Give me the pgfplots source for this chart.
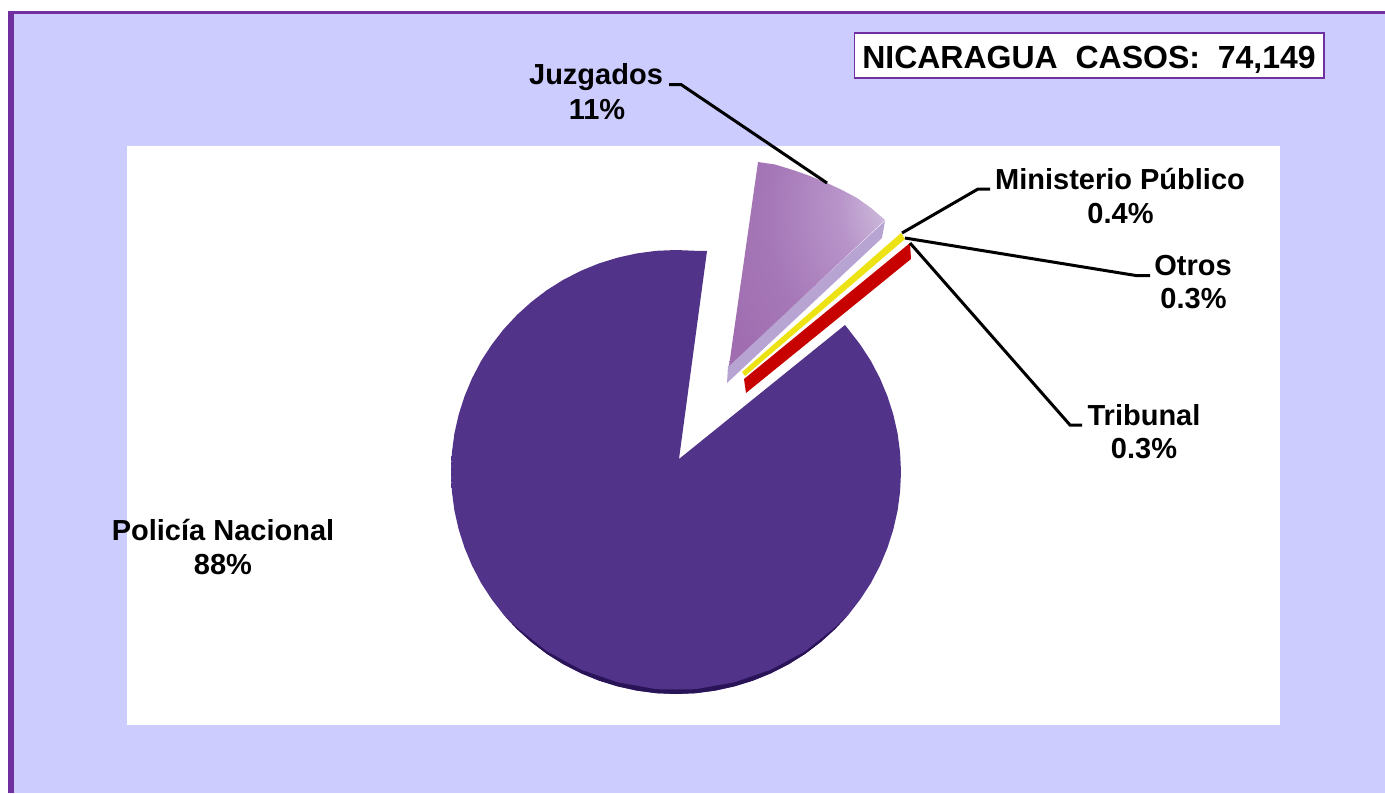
\documentclass[border=0pt]{standalone}
\usepackage{pgfplots}
\pgfplotsset{compat=1.18}
\usepackage{fontspec}
\setmainfont{Liberation Sans}
\definecolor{bgc}{HTML}{CCCCFF}
\definecolor{frm}{HTML}{7030A0}
\definecolor{prim}{HTML}{2A1458}
\definecolor{jside}{HTML}{B8A4D2}
\pgfdeclareradialshading{jglow}{\pgfpoint{38bp}{19bp}}{
  rgb(0bp)=(0.90,0.88,0.93);
  rgb(8bp)=(0.82,0.76,0.87);
  rgb(20bp)=(0.72,0.58,0.79);
  rgb(36bp)=(0.65,0.47,0.72);
  rgb(50bp)=(0.627,0.43,0.69);
  rgb(100bp)=(0.627,0.43,0.69)}
\pgfdeclareverticalshading{mainv}{100bp}{
  rgb(0bp)=(0.32,0.20,0.54);
  rgb(84bp)=(0.32,0.20,0.54);
  rgb(92bp)=(0.36,0.23,0.57);
  rgb(100bp)=(0.45,0.30,0.63)}
\tikzset{lab/.style={anchor=base,font=\fontsize{29}{33}\selectfont\bfseries}}
\begin{document}
\begin{tikzpicture}
\begin{axis}[
  scale only axis, width=1385pt, height=793pt,
  xmin=0, xmax=1385, ymin=0, ymax=793, y dir=reverse,
  hide axis, clip=true]
% page, frame, background, plot area
\addplot[fill=white,draw=none] coordinates {(0,0)(1385,0)(1385,793)(0,793)} -- cycle;
\addplot[fill=frm,draw=none] coordinates {(8,11)(1385,11)(1385,793)(8,793)} -- cycle;
\addplot[fill=bgc,draw=none] coordinates {(14,14)(1385,14)(1385,793)(14,793)} -- cycle;
\addplot[fill=white,draw=none] coordinates {(127,146)(1280,146)(1280,725)(127,725)} -- cycle;
% Policia Nacional 88%
\addplot[shading=mainv,draw=none] coordinates {
(679,459)(845,325)(848.4,329.3)(860.3,344.7)(870.9,361)(879.9,378.2)(887.4,396.1)(893.3,414.5)(897.6,433.5)(900.1,452.6)
(901,472)(900.1,491.4)(897.6,510.5)(893.3,529.5)(887.4,547.9)(879.9,565.8)(870.9,583)(860.3,599.3)(848.4,614.7)(835.1,629)
(820.6,642.1)(805.1,653.9)(788.5,664.3)(771.1,673.2)(753,680.6)(734.2,686.4)(715.1,690.6)(695.6,693.2)(676,694)
(656.4,693.2)(636.9,690.6)(617.8,686.4)(599,680.6)(580.9,673.2)(563.5,664.3)(546.9,653.9)(531.4,642.1)(516.9,629)(503.6,614.7)
(491.7,599.3)(481.1,583)(472.1,565.8)(464.6,547.9)(458.7,529.5)(454.4,510.5)(451.9,491.4)(451,472)(451.9,452.6)(454.4,433.5)
(458.7,414.5)(464.6,396.1)(472.1,378.2)(481.1,361)(491.7,344.7)(503.6,329.3)(516.9,315)(531.4,301.9)(546.9,290.1)(563.5,279.7)
(580.9,270.8)(599,263.4)(617.8,257.6)(636.9,253.4)(656.4,250.8)(676,250)(695.6,250.8)(707,251)} -- cycle;
% dark rim of the main slice
\addplot[fill=prim,draw=none] coordinates {
(848.4,614.7)(835.1,629)(820.6,642.1)(805.1,653.9)(788.5,664.3)(771.1,673.2)(753,680.6)(734.2,686.4)(715.1,690.6)(695.6,693.2)(676,694)
(656.4,693.2)(636.9,690.6)(617.8,686.4)(599,680.6)(580.9,673.2)(563.5,664.3)(546.9,653.9)(531.4,642.1)(516.9,629)(503.6,614.7)
(516.9,627.5)(546.9,651.4)(580.9,669.7)(617.8,682.4)(656.4,689.2)(676,689.5)(695.6,689.2)(734.2,682.4)(771.1,669.7)(805.1,651.4)(835.1,627.5)} -- cycle;
% Juzgados 11%
\addplot[fill=jside,draw=none] coordinates {(728,366)(885,221)(882,238)(727,383)} -- cycle;
\addplot[shading=jglow,draw=none] coordinates {
(729,366)(758,162)(775,164.5)(793,170)(810,176)(827,183)(842,190)(857,198)(871,208)(885,220)} -- cycle;
% Ministerio Publico 0.4%
\addplot[fill=yellow!92!black,draw=none] coordinates {(901,233)(905,239)(745,376)(742,372)} -- cycle;
% Tribunal 0.3% (with Otros 0.3% between)
\addplot[fill=red!78!black,draw=none] coordinates {(910,243)(911,259)(746,393)(744,379)} -- cycle;
% leader lines
\addplot[black,line width=3pt] coordinates {(669,84.5)(681,84.5)(827,183)};
\addplot[black,line width=3pt] coordinates {(902,233)(978,189)(990,189)};
\addplot[black,line width=3pt] coordinates {(905,238)(1137,275.7)(1150,275.7)};
\addplot[black,line width=3pt] coordinates {(910,243)(1070,425)(1082,425)};
% case-count box
\addplot[fill=white,draw=frm,line width=1.6pt] coordinates {(854.5,33)(1324,33)(1324,78)(854.5,78)} -- cycle;
\node[anchor=base,font=\fontsize{32}{36}\selectfont\bfseries] at (axis cs:1089,68) {NICARAGUA\ \ CASOS:\ \ 74,149};
\node[lab] at (axis cs:596,84) {Juzgados};
\node[lab] at (axis cs:597,119) {11\%};
\node[lab] at (axis cs:1120,189) {Ministerio Público};
\node[lab] at (axis cs:1120.5,223) {0.4\%};
\node[lab] at (axis cs:1193,275) {Otros};
\node[lab] at (axis cs:1193.5,308) {0.3\%};
\node[lab] at (axis cs:1144,425) {Tribunal};
\node[lab] at (axis cs:1144,458) {0.3\%};
\node[lab] at (axis cs:223,540) {Policía Nacional};
\node[lab] at (axis cs:223,574) {88\%};
\end{axis}
\end{tikzpicture}
\end{document}
